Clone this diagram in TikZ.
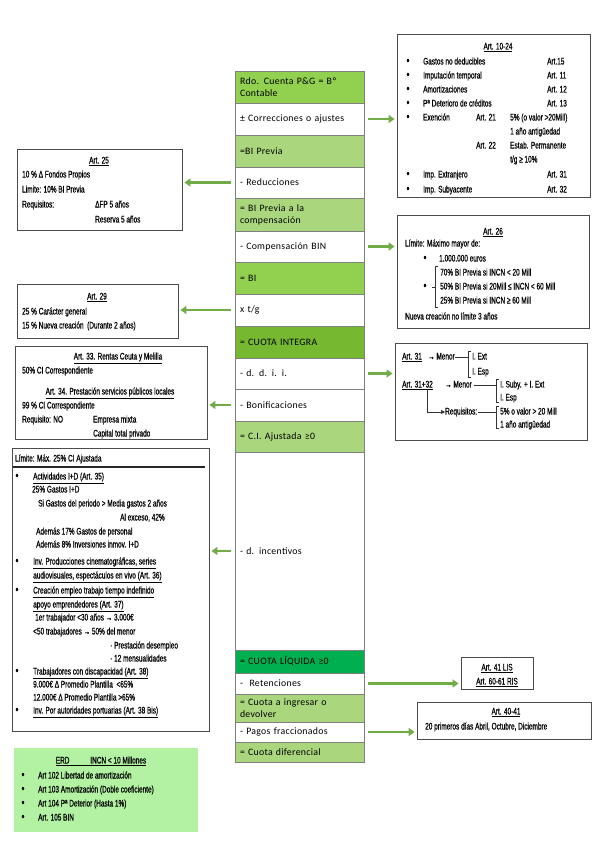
\documentclass[tikz,border=0pt]{standalone}
\usepackage{fontspec}
\setmainfont{Carlito}
\newfontfamily\condfont[FakeStretch=0.68,FakeBold=0.6]{Liberation Sans}
\newfontfamily\colfont[LetterSpace=3]{Carlito}
\usetikzlibrary{arrows.meta}
\definecolor{arrgreen}{RGB}{112,173,71}
\definecolor{midgreen}{RGB}{146,208,80}
\definecolor{lightgreen}{RGB}{170,214,125}
\definecolor{darkgreen}{RGB}{118,184,48}
\definecolor{liqgreen}{RGB}{0,176,80}
\definecolor{boxgreen}{RGB}{178,242,162}
\definecolor{rowgray}{RGB}{128,128,128}
\tikzset{row/.style={draw=rowgray,line width=0.8pt,minimum width=129pt,
                     text width=119pt,align=left,inner xsep=5pt,inner ysep=0pt,
                     font=\colfont\fontsize{9.8}{12}\selectfont}}
\tikzset{box/.style={draw=black!70,line width=0.9pt,inner sep=0pt}}
\tikzset{txt/.style={anchor=west,inner sep=0pt,text height=6.5pt,text depth=1.5pt,
                     font=\condfont\fontsize{9.5}{11}\selectfont}}
\tikzset{ttl/.style={txt,anchor=center}}
\tikzset{bul/.style={txt,anchor=center,font=\condfont\fontsize{12}{12}\selectfont}}
\tikzset{link/.style={arrgreen,line width=2.6pt,-{Triangle[length=6pt,width=8pt]},
                      shorten <=4pt,shorten >=2pt}}
\tikzset{brk/.style={black!80,line width=0.6pt}}
\begin{document}
\begin{tikzpicture}[x=1pt,y=-1pt]
    \fill[white] (0,0) rectangle (599,848);
    \useasboundingbox (0,0) rectangle (599,848);

    % central column
    \foreach \top/\bot/\col/\t [count=\i] in {
        71/103/midgreen/{Rdo. Cuenta P\&G = Bº\\Contable},
        103/135/white/{± Correcciones o ajustes},
        135/167/lightgreen/{=BI Previa},
        167/198/white/{- Reducciones},
        198/231/lightgreen/{= BI Previa a la\\compensación},
        231/262/white/{- Compensación BIN},
        262/294/midgreen/{= BI},
        294/326/white/{x t/g},
        326/358/darkgreen/{= CUOTA INTEGRA},
        358/389/white/{- d. d. i. i.},
        389/421/white/{- Bonificaciones},
        421/452/lightgreen/{= C.I. Ajustada ≥0},
        452/650/white/{- d. incentivos},
        650/673/liqgreen/{= CUOTA LÍQUIDA ≥0},
        673/694/white/{-\ \ Retenciones},
        694/722/lightgreen/{= Cuota a ingresar o\\devolver},
        722/742/white/{- Pagos fraccionados},
        742/762/lightgreen/{= Cuota diferencial}}{
        \node[row,fill=\col,minimum height={(\bot-\top)*1pt}] (r\i)
            at (299.5,{(\top+\bot)/2}) {\t};
    }

    % boxes
    \node[box,minimum width=193pt,minimum height=163pt] (b1024) at (493.5,115.5) {};
    \node[box,minimum width=165pt,minimum height=81pt] (b25) at (99.5,189.5) {};
    \node[box,minimum width=192pt,minimum height=113pt] (b26) at (493,271.5) {};
    \node[box,minimum width=161pt,minimum height=54pt] (b29) at (97.5,311) {};
    \node[box,minimum width=192pt,minimum height=97pt] (b31) at (491,391.5) {};
    \node[box,minimum width=192pt,minimum height=93pt] (b33) at (111,392.5) {};
    \node[box,minimum width=197pt,minimum height=283pt] (bincent) at (110.5,589.5) {};
    \node[box,minimum width=72pt,minimum height=32pt] (b41) at (497,673) {};
    \node[box,minimum width=174pt,minimum height=37pt] (b40) at (504,720.5) {};
    \node[fill=boxgreen,minimum width=184pt,minimum height=84pt,inner sep=0pt]
        (berd) at (106,790) {};

    % links
    \draw[link] (r2.east) -- (r2.east -| b1024.west);
    \draw[link] (r4.west) -- (r4.west -| b25.east);
    \draw[link] (r6.east) -- (r6.east -| b26.west);
    \draw[link] (r8.west) -- (r8.west -| b29.east);
    \draw[link] (r10.east) -- (r10.east -| b31.west);
    \draw[link] (r11.west) -- (r11.west -| b33.east);
    \draw[link] (r13.west) -- (r13.west -| bincent.east);
    \draw[link] (r15.east) -- (r15.east -| b41.west);
    \draw[link] (r17.east) -- (r17.east -| b40.west);

    % art. 10-24
    \node[ttl] (t1024) at (498,47) {\underline{Art. 10-24}};
    \foreach \y [count=\i] in {62,76,90,104,118,175,190}{
        \node[bul] (u1024\i) at (408,\y) {•};
    }
    \foreach \x/\y/\t [count=\i] in {
        423/62/{Gastos no deducibles}, 547/62/{Art.15},
        423/76/{Imputación temporal}, 547/76/{Art. 11},
        423/90/{Amortizaciones}, 547/90/{Art. 12},
        423/104/{Pª Deterioro de créditos}, 547/104/{Art. 13},
        423/118/{Exención}, 476/118/{Art. 21}, 510/118/{5\% (o valor >20Mill)},
        510/132/{1 año antigüedad},
        476/146/{Art. 22}, 510/146/{Estab. Permanente},
        510/160/{t/g ≥ 10\%},
        423/175/{Imp. Extranjero}, 547/175/{Art. 31},
        423/190/{Imp. Subyacente}, 547/190/{Art. 32}}{
        \node[txt] (p\i) at (\x,\y) {\t};
    }

    % art. 25
    \node[ttl] (t25) at (99,161) {\underline{Art. 25}};
    \foreach \x/\y/\t [count=\i] in {
        22/175/{10 \% Δ Fondos Propios},
        22/190/{Limite: 10\% BI Previa},
        22/205/{Requisitos:}, 95/205/{ΔFP 5 años},
        95/220/{Reserva 5 años}}{
        \node[txt] (q\i) at (\x,\y) {\t};
    }

    % art. 29
    \node[ttl] (t29) at (97,297) {\underline{Art. 29}};
    \node[txt] (s1) at (22,312) {25 \% Carácter general};
    \node[txt] (s2) at (22,326) {15 \% Nueva creación \ (Durante 2 años)};

    % art. 33 - 34
    \node[ttl] (t33) at (118,357) {\underline{Art. 33. Rentas Ceuta y Melilla}};
    \node[ttl] (t34) at (110,392) {\underline{Art. 34. Prestación servicios públicos locales}};
    \foreach \x/\y/\t [count=\i] in {
        22/371/{50\% CI Correspondiente},
        22/406/{99 \% CI Correspondiente},
        22/420/{Requisito: NO}, 93/420/{Empresa mixta},
        93/434/{Capital total privado}}{
        \node[txt] (v\i) at (\x,\y) {\t};
    }

    % d. incentivos
    \node[txt] (tinc) at (15,459) {Límite: Máx. 25\% CI Ajustada};
    \draw[black!85,line width=1.4pt] (13,467) -- (205,467);
    \foreach \y [count=\i] in {477,562,591,672,711}{
        \node[bul] (uinc\i) at (17,\y) {•};
    }
    \foreach \x/\y/\t [count=\i] in {
        33/477/{\underline{Actividades I+D (Art. 35)}},
        32/490/{25\% Gastos I+D},
        38/504/{Si Gastos del periodo > Media gastos 2 años},
        120/518/{Al exceso, 42\%},
        36/532/{Además 17\% Gastos de personal},
        36/545/{Además 8\% Inversiones inmov. I+D},
        33/562/{\underline{Inv. Producciones cinematográficas, series}},
        33/576/{\underline{audiovisuales, espectáculos en vivo (Art. 36)}},
        33/591/{\underline{Creación empleo trabajo tiempo indefinido}},
        33/605/{\underline{apoyo emprendedores (Art. 37)}},
        35/618/{1er trabajador <30 años → 3.000€},
        33/632/{<50 trabajadores → 50\% del menor},
        110/646/{· Prestación desempleo},
        110/659/{· 12 mensualidades},
        33/672/{\underline{Trabajadores con discapacidad (Art. 38)}},
        33/685/{9.000€ Δ Promedio Plantilla \ <65\%},
        33/698/{12.000€ Δ Promedio Plantilla >65\%},
        33/711/{\underline{Inv. Por autoridades portuarias (Art. 38 Bis)}}}{
        \node[txt] (w\i) at (\x,\y) {\t};
    }

    % art. 26
    \node[ttl] (t26) at (493,232) {\underline{Art. 26}};
    \node[bul] (u261) at (425,259) {•};
    \node[bul] (u262) at (425,287) {•};
    \foreach \x/\y/\t [count=\i] in {
        405/244/{Límite: Máximo mayor de:},
        439/259/{1.000.000 euros},
        440/273/{70\% BI Previa si INCN < 20 Mill},
        440/287/{50\% BI Previa si 20Mill ≤ INCN < 60 Mill},
        440/301/{25\% BI Previa si INCN ≥ 60 Mill},
        405/317/{Nueva creación no límite 3 años}}{
        \node[txt] (z\i) at (\x,\y) {\t};
    }
    \draw[brk] (438,266) -- (435,266) -- (435,307) -- (438,307);
    \draw[brk] (435,287) -- (432,287);

    % art. 31 - 32
    \node[txt] (a31) at (402,357) {\underline{Art. 31}};
    \node[txt] (m31) at (428,357) {→ Menor};
    \node[txt] (e31) at (472,357) {I. Ext};
    \node[txt] (s31) at (472,372) {I. Esp};
    \draw[brk] (m31.east) -- (468,357);
    \draw[brk] (471,351) -- (468,351) -- (468,377) -- (471,377);
    \node[txt] (a3132) at (402,385) {\underline{Art. 31+32}};
    \node[txt] (m3132) at (445,385) {→ Menor};
    \node[txt] (e3132) at (500,385) {I. Suby. + I. Ext};
    \node[txt] (s3132) at (500,398) {I. Esp};
    \draw[brk] ([xshift=2pt]m3132.east) -- (496,385);
    \draw[brk] (499,379) -- (496,379) -- (496,402) -- (499,402);
    \node[txt] (req) at (445,412) {Requisitos:};
    \node[txt] (v3132) at (500,412) {5\% o valor > 20 Mill};
    \node[txt] (y3132) at (500,425) {1 año antigüedad};
    \draw[brk,-{Triangle[length=4pt,width=4pt]}] ([xshift=-6pt]a3132.south east) |- (req.west);
    \draw[brk] ([xshift=1pt]req.east) -- (496,412);
    \draw[brk] (499,406) -- (496,406) -- (496,428) -- (499,428);

    % art. 41, 40-41
    \node[ttl] (t41) at (497,668) {\underline{Art. 41 LIS}};
    \node[ttl] (t60) at (497,682) {\underline{Art. 60-61 RIS}};
    \node[ttl] (t40) at (506,712) {\underline{Art. 40-41}};
    \node[txt] (d40) at (425,727) {20 primeros días Abril, Octubre, Diciembre};

    % erd
    \node[ttl] (terd) at (101,761) {\underline{ERD\hspace{2.2em}INCN < 10 Millones}};
    \foreach \t [count=\i] in {
        {Art 102 Libertad de amortización},
        {Art 103 Amortización (Doble coeficiente)},
        {Art 104 Pª Deterior (Hasta 1\%)},
        {Art. 105 BIN}}{
        \node[bul] (uerd\i) at (23,762+\i*14) {•};
        \node[txt] (erd\i) at (38,762+\i*14) {\t};
    }
\end{tikzpicture}
\end{document}
